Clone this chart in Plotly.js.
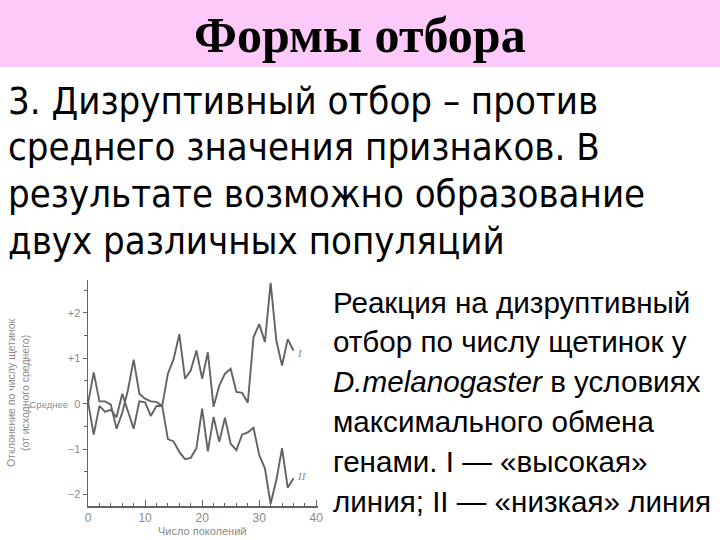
<!DOCTYPE html>
<html>
<head>
<meta charset="utf-8">
<script src="https://cdn.plot.ly/plotly-3.0.1.min.js"></script>
<style>
  html, body { margin: 0; padding: 0; background: #ffffff; }
  #chart { width: 720px; height: 540px; }
</style>
</head>
<body>
<div id="chart"></div>
<script>
// ---- data ----
const generations = [0,1,2,3,4,5,6,7,8,9,10,11,12,13,14,15,16,17,18,19,20,21,22,23,24,25,26,27,28,29,30,31,32,33,34,35,36];
const lineHigh = [0.0,0.69,0.05,0.05,-0.02,-0.55,-0.2,0.3,0.97,0.22,0.11,0.05,0.04,-0.05,
                  0.66,0.98,1.53,0.55,0.73,1.17,0.55,1.13,-0.07,0.4,0.66,0.77,0.26,0.24,0.02,
                  1.46,1.75,1.36,2.66,1.39,0.84,1.42,1.17];
const lineLow  = [0.05,-0.68,-0.05,-0.18,-0.13,-0.3,0.22,-0.15,-0.55,0.05,0.03,-0.27,-0.05,-0.05,
                  -0.78,-0.83,-1.06,-1.22,-1.19,-0.98,-0.11,-1.05,-0.29,-0.84,-0.31,-0.88,-1.02,
                  -0.68,-0.63,-0.53,-1.13,-1.42,-2.2,-1.68,-0.98,-1.85,-1.64];
const yTickVals = [-2,-1,0,1,2];
const yTickText = ['\u22122','\u22121','<span style="font-size:9.5px">Среднее</span>  0','+1','+2'];
const xTickVals = [0,10,20,30,40];
const lineLabels = ['I','II'];

const slideTitle = 'Формы отбора';
const bodyLines = [
  '3. Дизруптивный отбор \u2013 против',
  'среднего значения признаков. В',
  'результате возможно образование',
  'двух различных популяций'
];
const captionLines = [
  'Реакция на дизруптивный',
  'отбор по числу щетинок у',
  '<i>D.melanogaster</i> в условиях',
  'максимального обмена',
  'генами. I \u2014 «высокая»',
  'линия; II \u2014 «низкая» линия'
];
const yAxisTitle = 'Отклонение по числу щетинок<br>(от исходного среднего)';
const xAxisTitle = 'Число поколений';

// ---- layout helpers (pixel -> paper) ----
const W = 720, H = 540;
const M = {l: 88, r: 402, t: 280, b: 34};
const pw = W - M.l - M.r, ph = H - M.t - M.b;
const px = x => (x - M.l) / pw;
const py = y => (H - M.b - y) / ph;

const grey = '#636363';
const lightGrey = '#8a8a8a';

const traces = [
  {x: generations, y: lineHigh, mode: 'lines', line: {color: grey, width: 1.9}, hoverinfo: 'skip'},
  {x: generations, y: lineLow,  mode: 'lines', line: {color: grey, width: 1.9}, hoverinfo: 'skip'}
];

const annotations = [];
annotations.push({xref:'paper', yref:'paper', x: px(360), y: py(35), xanchor:'center', yanchor:'middle',
  text: '<b>' + slideTitle + '</b>', showarrow:false,
  font:{family:'Liberation Serif, Times New Roman, serif', size:50, color:'#000'}});
bodyLines.forEach((t, i) => annotations.push({xref:'paper', yref:'paper', x: px(6), y: py(101 + i*46.5),
  xanchor:'left', yanchor:'middle', text: t, showarrow:false,
  font:{family:'Liberation Sans Narrow, Arial Narrow, DejaVu Sans Condensed, sans-serif', size:38, color:'#000'}}));
captionLines.forEach((t, i) => annotations.push({xref:'paper', yref:'paper', x: px(331), y: py(302 + i*39.8),
  xanchor:'left', yanchor:'middle', text: t, showarrow:false,
  font:{family:'Liberation Sans, Arial, sans-serif', size:29.6, color:'#000'}}));
annotations.push({xref:'paper', yref:'paper', x: px(18), y: py(393), xanchor:'center', yanchor:'middle',
  text: yAxisTitle, textangle:-90, showarrow:false,
  font:{family:'Liberation Sans, Arial, sans-serif', size:10.5, color:lightGrey}});
annotations.push({xref:'paper', yref:'paper', x: px(202), y: py(531), xanchor:'center', yanchor:'middle',
  text: xAxisTitle, showarrow:false,
  font:{family:'Liberation Sans, Arial, sans-serif', size:11, color:lightGrey}});
annotations.push({xref:'x', yref:'y', x: 37.1, y: 1.12, xanchor:'center', yanchor:'middle',
  text: '<i>' + lineLabels[0] + '</i>', showarrow:false,
  font:{family:'Liberation Serif, serif', size:11, color:lightGrey}});
annotations.push({xref:'x', yref:'y', x: 37.5, y: -1.58, xanchor:'center', yanchor:'middle',
  text: '<i>' + lineLabels[1] + '</i>', showarrow:false,
  font:{family:'Liberation Serif, serif', size:11, color:lightGrey}});

const layout = {
  width: W, height: H,
  margin: M,
  paper_bgcolor: '#ffffff', plot_bgcolor: 'rgba(0,0,0,0)',
  showlegend: false,
  shapes: [{type:'rect', xref:'paper', yref:'paper', x0: px(0), x1: px(720), y0: py(67), y1: py(0),
    fillcolor:'#fdc9f8', line:{width:0}, layer:'below'}],
  xaxis: {range:[0, 40.3], showgrid:false, zeroline:false, showline:true, linecolor:grey, linewidth:1.5,
    tickmode:'array', tickvals: xTickVals, ticks:'inside', ticklen:6, tickcolor:grey, tickwidth:1,
    minor:{dtick:2, ticks:'inside', ticklen:3, tickcolor:grey},
    tickfont:{family:'Liberation Sans, Arial, sans-serif', size:12, color:lightGrey}},
  yaxis: {range:[-2.25, 2.72], showgrid:false, zeroline:false, showline:true, linecolor:grey, linewidth:1.5,
    tickmode:'array', tickvals: yTickVals, ticktext: yTickText, ticks:'outside', ticklen:4, tickcolor:grey,
    minor:{dtick:0.5, ticks:'outside', ticklen:3, tickcolor:grey},
    tickfont:{family:'Liberation Sans, Arial, sans-serif', size:11, color:lightGrey}},
  annotations: annotations
};

Plotly.newPlot('chart', traces, layout, {staticPlot:true, displayModeBar:false});
</script>
</body>
</html>
